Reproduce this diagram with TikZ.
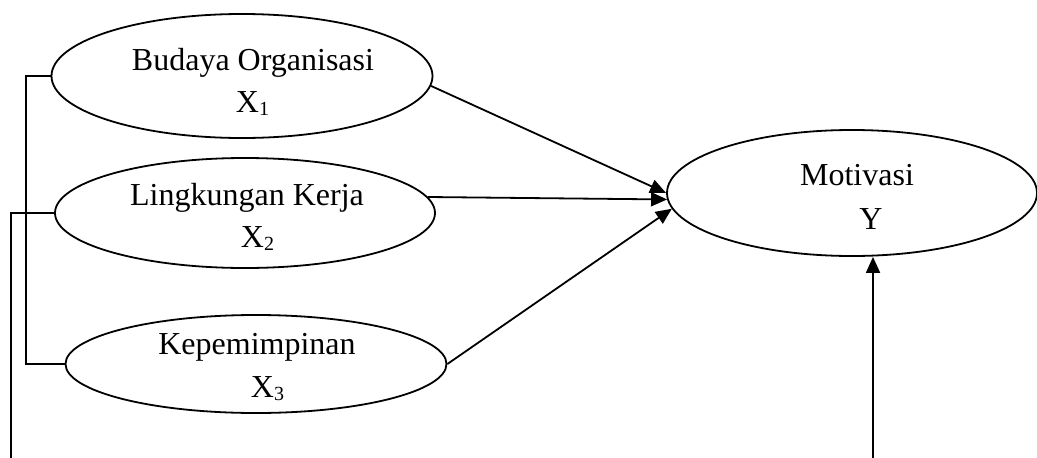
\documentclass[tikz,border=0pt]{standalone}
\usepackage{fontspec}
\setmainfont{Liberation Serif}
\usetikzlibrary{shapes.geometric,arrows.meta}
\newcommand{\sbx}[1]{{\fontsize{20}{20}\selectfont\raisebox{-3pt}{#1}}}
\begin{document}
\begin{tikzpicture}[x=1pt,y=-1pt,
  var/.style={draw,ellipse,line width=1.8pt,inner sep=0pt},
  txt/.style={inner sep=0pt,anchor=base,font=\fontsize{32}{38}\selectfont},
  conn/.style={line width=1.8pt},
  arr/.style={line width=1.8pt,-{Triangle[length=16pt,width=14pt]}}]
\useasboundingbox (0,0) rectangle (1037,458);
\node[var,minimum width=381pt,minimum height=124pt] (e1) at (242,76) {};
\node[var,minimum width=380pt,minimum height=110pt] (e2) at (245,213) {};
\node[var,minimum width=381pt,minimum height=98pt] (e3) at (256,364) {};
\node[var,minimum width=370pt,minimum height=126pt] (m) at (852,193) {};
\node[txt] (t1a) at (253,70) {Budaya Organisasi};
\node[txt] (t1b) at (252.5,112) {X\sbx{1}};
\node[txt] (t2a) at (247,205) {Lingkungan Kerja};
\node[txt] (t2b) at (257.5,247) {X\sbx{2}};
\node[txt] (t3a) at (257,354) {Kepemimpinan};
\node[txt] (t3b) at (267.5,397) {X\sbx{3}};
\node[txt] (tma) at (857,185) {Motivasi};
\node[txt] (tmb) at (871,229) {Y};
\coordinate (b1) at (11,458);
\coordinate (b2) at (873,458);
\draw[arr] (e1.-3) -- (m.180);
\draw[arr] (e2.5) -- (m.182);
\draw[arr] (e3.east) -- (m.185);
\draw[arr] (b2) -- (b2 |- m.south);
\draw[conn] (e1.west) -- ++(-25,0) |- (e3.west);
\draw[conn] (e2.west) -| (b1);
\end{tikzpicture}
\end{document}
